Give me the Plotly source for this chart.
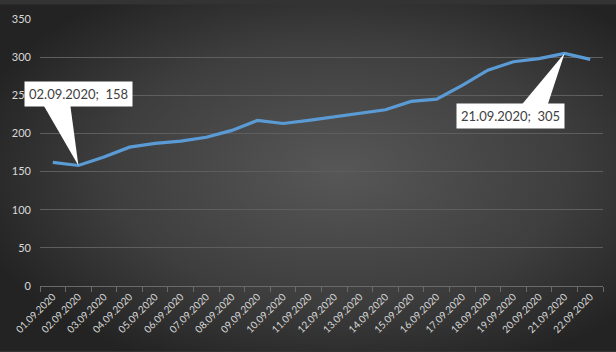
import base64
import plotly.graph_objects as go

dates = ["01.09.2020", "02.09.2020", "03.09.2020", "04.09.2020", "05.09.2020",
         "06.09.2020", "07.09.2020", "08.09.2020", "09.09.2020", "10.09.2020",
         "11.09.2020", "12.09.2020", "13.09.2020", "14.09.2020", "15.09.2020",
         "16.09.2020", "17.09.2020", "18.09.2020", "19.09.2020", "20.09.2020",
         "21.09.2020", "22.09.2020"]
values = [162, 158, 169, 182, 187, 190, 195, 204, 217, 213, 217, 222,
          226, 231, 242, 245, 263, 283, 294, 298, 305, 297]
y_ticks = [0, 50, 100, 150, 200, 250, 300, 350]
callouts = [1, 20]  # indices of labelled points

idx = list(range(len(dates)))

W, H = 616, 352
ml, mr, mt, mb = 40, 13, 15, 66
pw, ph = W - ml - mr, H - mt - mb

svg = f'''<svg xmlns="http://www.w3.org/2000/svg" width="{W}" height="{H}">
<defs><radialGradient id="g" cx="0.55" cy="0.48" r="0.62" fx="0.55" fy="0.48">
<stop offset="0" stop-color="#575757"/>
<stop offset="0.6" stop-color="#3e3e3e"/>
<stop offset="1" stop-color="#232323"/>
</radialGradient></defs>
<rect width="{W}" height="{H}" fill="url(#g)"/></svg>'''
src = "data:image/svg+xml;base64," + base64.b64encode(svg.encode()).decode()

fig = go.Figure()
fig.add_trace(go.Scatter(
    x=idx, y=values, mode="lines",
    line=dict(color="#5b9bd5", width=3.2),
    hoverinfo="skip", showlegend=False))

font = "Lato, 'Liberation Sans', sans-serif"
shapes = []
annotations = []
# label offsets relative to point (layout only)
offs = {1: (0.0, 94, -1.38, -0.32, 238), 20: (-2.1, -82, -1.67, -0.66, 238)}
for i in callouts:
    dx, dy, b0, b1, by = offs[i]
    xv, yv = idx[i], values[i]
    shapes.append(dict(type="path", xref="x", yref="y",
                       path=f"M {xv + b0},{by} L {xv + b1},{by} L {xv},{yv} Z",
                       fillcolor="white", line=dict(width=0), layer="above"))
    annotations.append(dict(x=xv + dx, y=yv + dy, xref="x", yref="y",
                            text=f"{dates[i]};  {yv}", showarrow=False,
                            bgcolor="white", borderpad=4,
                            font=dict(family=font, size=13, color="#404040")))

fig.update_layout(
    width=W, height=H,
    margin=dict(l=ml, r=mr, t=mt, b=mb),
    paper_bgcolor="#333333", plot_bgcolor="rgba(0,0,0,0)",
    images=[dict(source=src, xref="paper", yref="paper",
                 x=-ml / pw, y=1 + mt / ph, sizex=W / pw, sizey=H / ph,
                 xanchor="left", yanchor="top", sizing="stretch", layer="below")],
    xaxis=dict(range=[-0.5, len(dates) - 0.5], tickmode="array",
               tickvals=idx, ticktext=dates, tickangle=-45,
               tickfont=dict(family=font, size=10, color="#d9d9d9"),
               showgrid=False, zeroline=False, showline=True,
               linecolor="#6a6a6a", linewidth=1, ticks="",
               minor=dict(tick0=0.5, dtick=1, ticks="outside", ticklen=5,
                          tickcolor="#6a6a6a", showgrid=False)),
    yaxis=dict(range=[0, 350], tickmode="array", tickvals=y_ticks,
               tickfont=dict(family=font, size=11, color="#d9d9d9"),
               showgrid=True, gridcolor="#5e5e5e", gridwidth=1,
               zeroline=False, showline=False, ticks="", ticklabelstandoff=8),
    shapes=shapes, annotations=annotations,
)
fig.write_html("out.html")
